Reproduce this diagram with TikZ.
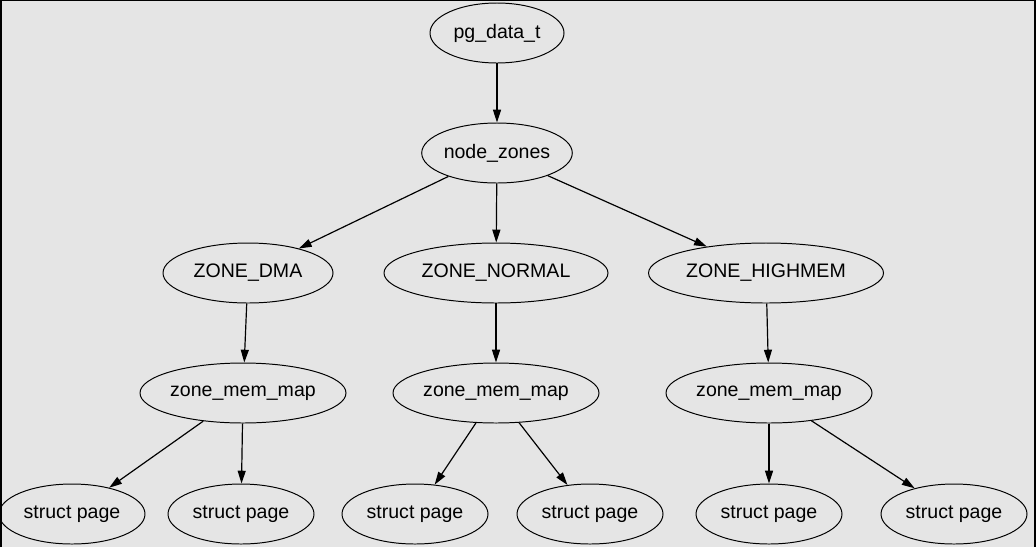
\documentclass[tikz,border=0pt]{standalone}
\usepackage{fontspec}
\setmainfont{Liberation Sans}
\usepackage{tikz}
\usetikzlibrary{shapes.geometric,arrows.meta}

\begin{document}
\begin{tikzpicture}[
    obj/.style  ={ellipse, draw, line width=0.7pt, inner sep=0pt,
                  minimum height=1.5cm, font=\fontsize{13.9}{16}\selectfont},
    page/.style ={obj, minimum width=3.65cm},
    mmap/.style ={obj, minimum width=5.15cm},
    arr/.style  ={-{Triangle[length=3.2mm, width=2mm]}, line width=0.85pt}
  ]
    % --- background and frame ---
    \fill[black!10] (0,0) rectangle (25.9,-13.675);
    \useasboundingbox (0,0) rectangle (25.9,-13.675);
    \draw[line width=1.2pt] (0.02,-13.675) -- (0.02,-0.015) -- (25.88,-0.015) -- (25.88,-13.675);

    % --- top ---
    \node[obj, minimum width=3.35cm]  (pgdata) at (12.425,-0.825) {pg\_data\_t};
    \node[obj, minimum width=3.625cm] (zones)  at (12.425,-3.825) {node\_zones};

    % --- zones ---
    \node[obj, minimum width=4.25cm]  (dma)    at (6.2,-6.825)   {ZONE\_DMA};
    \node[obj, minimum width=5.6cm]   (normal) at (12.4,-6.825)  {ZONE\_NORMAL};
    \node[obj, minimum width=5.875cm] (high)   at (19.15,-6.825) {ZONE\_HIGHMEM};

    % --- mem maps ---
    \node[mmap] (mapdma)    at (6.075,-9.825)  {zone\_mem\_map};
    \node[mmap] (mapnormal) at (12.4,-9.825)   {zone\_mem\_map};
    \node[mmap] (maphigh)   at (19.225,-9.825) {zone\_mem\_map};

    % --- pages ---
    \node[page] (pa) at (1.8,-12.85)    {struct page};
    \node[page] (pb) at (6.025,-12.85)  {struct page};
    \node[page] (pc) at (10.375,-12.85) {struct page};
    \node[page] (pd) at (14.75,-12.85)  {struct page};
    \node[page] (pe) at (19.225,-12.85) {struct page};
    \node[page] (pf) at (23.85,-12.85)  {struct page};

    \draw[arr] (pgdata) -- (zones);
    \draw[arr] (zones) -- (dma);
    \draw[arr] (zones) -- (normal);
    \draw[arr] (zones) -- (high);
    \draw[arr] (dma) -- (mapdma);
    \draw[arr] (normal) -- (mapnormal);
    \draw[arr] (high) -- (maphigh);
    \draw[arr] (mapdma) -- (pa);
    \draw[arr] (mapdma) -- (pb);
    \draw[arr] (mapnormal) -- (pc);
    \draw[arr] (mapnormal) -- (pd);
    \draw[arr] (maphigh) -- (pe);
    \draw[arr] (maphigh) -- (pf);
\end{tikzpicture}
\end{document}
